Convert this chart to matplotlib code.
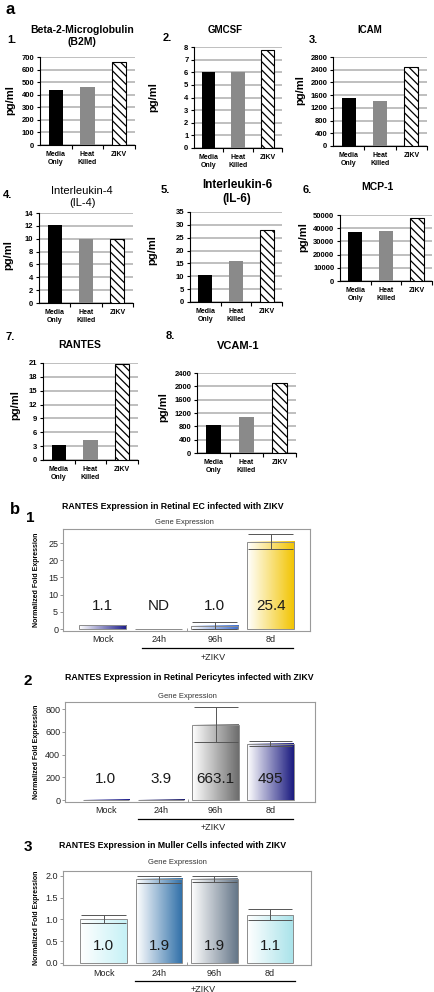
import numpy as np
import matplotlib
matplotlib.use("Agg")
import matplotlib.pyplot as plt
from matplotlib.colors import LinearSegmentedColormap
from matplotlib.transforms import blended_transform_factory

W, H = 434, 992
plt.rcParams['font.family'] = ['Liberation Sans', 'DejaVu Sans']
plt.rcParams['hatch.linewidth'] = 0.9

# ---- panel a: cytokine levels (pg/ml) ----
groups = ["Media\nOnly", "Heat\nKilled", "ZIKV"]
b2m = [440, 460, 660]
gmcsf = [6.05, 6.0, 7.75]
icam = [1500, 1420, 2500]
il4 = [12.1, 10.0, 10.0]
il6 = [10.5, 16.0, 28.0]
mcp1 = [37000, 38000, 47500]
rantes = [3.2, 4.3, 20.8]
vcam1 = [830, 1070, 2100]

b2m_ticks = [0, 100, 200, 300, 400, 500, 600, 700]
gmcsf_ticks = [0, 1, 2, 3, 4, 5, 6, 7, 8]
icam_ticks = [0, 400, 800, 1200, 1600, 2000, 2400, 2800]
il4_ticks = [0, 2, 4, 6, 8, 10, 12, 14]
il6_ticks = [0, 5, 10, 15, 20, 25, 30, 35]
mcp1_ticks = [0, 10000, 20000, 30000, 40000, 50000]
rantes_ticks = [0, 3, 6, 9, 12, 15, 18, 21]
vcam1_ticks = [0, 400, 800, 1200, 1600, 2000, 2400]

# ---- panel b: RANTES qPCR ----
times = ["Mock", "24h", "96h", "8d"]
nan = np.nan
ec_fold = [1.1, 0.0, 1.0, 25.4]
ec_text = ["1.1", "ND", "1.0", "25.4"]
ec_lo = [nan, nan, 0.0, 23.2]
ec_hi = [nan, nan, 2.0, 27.5]
peri_fold = [1.0, 3.9, 663.1, 495.0]
peri_text = ["1.0", "3.9", "663.1", "495"]
peri_lo = [nan, nan, 510, 478]
peri_hi = [nan, nan, 820, 520]
mul_fold = [1.0, 1.93, 1.93, 1.1]
mul_text = ["1.0", "1.9", "1.9", "1.1"]
mul_lo = [0.91, 1.84, 1.86, 0.98]
mul_hi = [1.10, 2.00, 2.00, 1.24]

fig = plt.figure(figsize=(W / 100, H / 100), dpi=100)


def ax_px(l, t, r, b):
    return fig.add_axes([l / W, 1 - b / H, (r - l) / W, (b - t) / H])


def ftext(x, y, s, **kw):
    kw.setdefault("ha", "center")
    kw.setdefault("va", "center")
    fig.text(x / W, 1 - y / H, s, **kw)


def pg_panel(box, vals, ticks):
    ax = ax_px(*box)
    x = np.arange(len(groups))
    ax.bar(x[0], vals[0], 0.45, color="black", zorder=3)
    ax.bar(x[1], vals[1], 0.45, color="#8a8a8a", zorder=3)
    ax.bar(x[2], vals[2], 0.45, color="white", edgecolor="black",
           hatch="\\\\\\\\", lw=0.8, zorder=3)
    ax.set_xlim(-0.5, 2.5)
    ax.set_ylim(0, ticks[-1])
    ax.set_yticks(ticks)
    ax.set_yticklabels([str(t) for t in ticks], fontsize=5.5, fontweight="bold")
    ax.yaxis.grid(True, color="#adadad", lw=1.1)
    ax.set_axisbelow(True)
    for s in ("top", "right"):
        ax.spines[s].set_visible(False)
    for s in ("left", "bottom"):
        ax.spines[s].set_linewidth(0.8)
    ax.set_xticks(x)
    ax.set_xticklabels(groups, fontsize=5, fontweight="bold", linespacing=1.2)
    ax.set_xticks([0.5, 1.5, 2.5], minor=True)
    ax.tick_params(axis="x", which="major", length=0, pad=4)
    ax.tick_params(axis="x", which="minor", length=3, width=0.8)
    ax.tick_params(axis="y", length=2.5, width=0.8, pad=1.5)
    return ax


pg_panel((40, 57, 135, 145), b2m, b2m_ticks)
pg_panel((194, 47, 282, 148), gmcsf, gmcsf_ticks)
pg_panel((333, 57, 427, 146), icam, icam_ticks)
pg_panel((39, 213, 133, 303), il4, il4_ticks)
pg_panel((190, 212, 282, 302), il6, il6_ticks)
pg_panel((340, 215, 432, 281), mcp1, mcp1_ticks)
pg_panel((43, 363, 138, 460), rantes, rantes_ticks)
pg_panel((197, 373, 296, 453), vcam1, vcam1_ticks)

bold = dict(fontweight="bold")
ftext(6, 9, "a", fontsize=12, ha="left", **bold)
ftext(82, 36, "Beta-2-Microglobulin\n(B2M)", fontsize=7.5, linespacing=1.25, **bold)
ftext(225, 30, "GMCSF", fontsize=7, **bold)
ftext(370, 30, "ICAM", fontsize=7, **bold)
ftext(82, 197, "Interleukin-4\n(IL-4)", fontsize=8, linespacing=1.2)
ftext(237, 192, "Interleukin-6\n(IL-6)", fontsize=8.5, linespacing=1.3, **bold)
ftext(377, 187, "MCP-1", fontsize=7.5, **bold)
ftext(80, 345, "RANTES", fontsize=7.5, **bold)
ftext(238, 346, "VCAM-1", fontsize=8, **bold)
for x, y, s in [(12, 40, "1."), (167, 38, "2."), (313, 40, "3."), (8, 195, "4."),
                (165, 190, "5."), (307, 190, "6."), (10, 337, "7."), (170, 336, "8.")]:
    ftext(x, y, s, fontsize=8, **bold)
for x, y in [(10, 100), (153, 97), (300, 90), (8, 255), (152, 250), (303, 237),
             (15, 405), (163, 407)]:
    ftext(x, y, "pg/ml", fontsize=8, rotation=90, **bold)


def fold_panel(box, xlim, ylim, yticks, ylabs, vals, texts, lo, hi, colors,
               text_y, line_x, zikv_x):
    ax = ax_px(*box)
    x = np.arange(len(times))
    w = 0.84
    for xi, v, c in zip(x, vals, colors):
        ax.bar(xi, v, w, color="none", edgecolor="#8c8c8c", lw=0.7, zorder=4)
        if v > 0:
            cmap = LinearSegmentedColormap.from_list("g", ["white", c])
            ax.imshow(np.linspace(0, 1, 64).reshape(1, -1), cmap=cmap, aspect="auto",
                      extent=[xi - w / 2, xi + w / 2, 0, v], zorder=3)
    for xi, a, b in zip(x, lo, hi):
        if np.isnan(a):
            continue
        ax.vlines(xi, a, b, color="#555555", lw=0.7, zorder=5)
        ax.hlines([a, b], xi - 0.4, xi + 0.4, color="#555555", lw=0.7, zorder=5)
    tr = blended_transform_factory(ax.transData, ax.transAxes)
    for xi, s in zip(x, texts):
        ax.text(xi, text_y, s, transform=tr, ha="center", va="center",
                fontsize=11, color="#1a1a1a", zorder=6)
    ax.plot(line_x, [-0.165, -0.165], transform=tr, color="black", lw=0.9, clip_on=False)
    ax.text(zikv_x, -0.26, "+ZIKV", transform=tr, ha="center", va="center",
            fontsize=6.5, color="#222222")
    ax.set_xlim(*xlim)
    ax.set_ylim(*ylim)
    ax.set_xticks(x)
    ax.set_xticklabels(times, fontsize=6.5, color="#222222")
    ax.set_yticks(yticks)
    ax.set_yticklabels(ylabs, fontsize=6.5, color="#222222")
    ax.set_xticks([1.5], minor=True)
    ax.tick_params(axis="x", which="major", length=0, pad=3)
    ax.tick_params(axis="x", which="minor", length=2, direction="in", color="#888888")
    ax.tick_params(axis="y", length=2, width=0.6, color="#888888", pad=1.5)
    for s in ax.spines.values():
        s.set_color("#9a9a9a")
        s.set_linewidth(0.8)
    return ax


fold_panel((63, 529, 310, 631), (-0.71, 3.7), (-0.58, 29.07),
           [0, 5, 10, 15, 20, 25], ["0", "5", "10", "15", "20", "25"],
           ec_fold, ec_text, ec_lo, ec_hi,
           ["#1c1c8a", "#1c1c8a", "#3f6fd0", "#f2c400"], 0.245, [0.7, 3.39], 1.98)
fold_panel((65, 702, 315, 802), (-0.74, 3.81), (-17.6, 863),
           [0, 200, 400, 600, 800], ["0", "200", "400", "600", "800"],
           peri_fold, peri_text, peri_lo, peri_hi,
           ["#1c1c8a", "#1c1c6a", "#6e6e6e", "#1c1c80"], 0.23, [0.58, 3.41], 1.95)
fold_panel((63, 871, 311, 965), (-0.73, 3.74), (-0.046, 2.11),
           [0, 0.5, 1.0, 1.5, 2.0], ["0.0", "0.5", "1.0", "1.5", "2.0"],
           mul_fold, mul_text, mul_lo, mul_hi,
           ["#c6f1f6", "#2f6fa8", "#667789", "#a9e3ea"], 0.2, [0.57, 3.45], 1.8)

ftext(10, 510, "b", fontsize=12, ha="left", **bold)
ftext(30, 518, "1", fontsize=11, **bold)
ftext(28, 681, "2", fontsize=11, **bold)
ftext(28, 847, "3", fontsize=11, **bold)
ftext(173, 506, "RANTES Expression in Retinal EC infected with ZIKV", fontsize=6.3, **bold)
ftext(189, 678, "RANTES Expression in Retinal Pericytes infected with ZIKV", fontsize=6.3, **bold)
ftext(173, 845, "RANTES Expression in Muller Cells infected with ZIKV", fontsize=6.3, **bold)
ftext(184, 522, "Gene Expression", fontsize=5.5, color="#333333")
ftext(187, 696, "Gene Expression", fontsize=5.5, color="#333333")
ftext(177, 862, "Gene Expression", fontsize=5.5, color="#333333")
for y in (580, 752, 918):
    ftext(36, y, "Normalized Fold Expression", fontsize=5, rotation=90, **bold)

fig.savefig("out.png", dpi=100)
